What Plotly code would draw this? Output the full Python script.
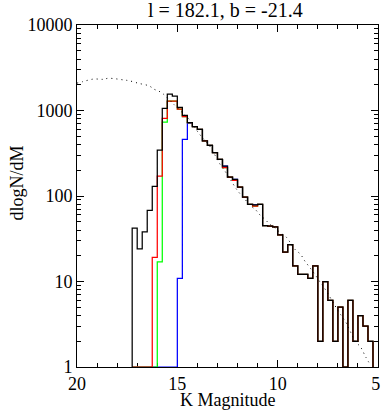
import plotly.graph_objects as go

# ---- data ----
# left edges (faint side, K mag) of 0.25-mag bins, 17.25 ... 5.50
bin_width = 0.25
bin_start = [17.25 - 0.25 * i for i in range(48)]

black_vals = [42, 24, 38, 68, 130, 345, 1060, 1550, 1470, 1090, 875, 720,
              647, 600, 440, 390, 321, 269, 224, 166, 157, 127, 97, 80,
              79, 80, 45, 44.5, 43.5, 35, 22, 27, 15.2, 12.1, 12.1, 10.9,
              15.2, 2, 10, 6, 2, 5, 1, 6, 2, 4, 3, 2]

red_vals = [1, 1, 1, 1, 19.2, 171, 811, 1290, 1290, 1040, 847, 720,
            647, 600, 440, 390, 321, 269, 215, 166, 152, 127, 97, 80,
            76, 80, 45, 44.5, 43.5, 35, 22, 27, 15.2, 12.1, 12.1, 10.9,
            15.2, 2, 10, 6, 2, 5, 1, 6, 2, 4, 3, 2]

green_vals = [1, 1, 1, 1, 1, 17, 733, 1290, 1290, 1040, 847, 720,
              647, 600, 440, 390, 321, 269, 215, 166, 152, 127, 97, 80,
              76, 80, 45, 44.5, 43.5, 35, 22, 27, 15.2, 12.1, 12.1, 10.9,
              15.2, 2, 10, 6, 2, 5, 1, 6, 2, 4, 3, 2]

blue_vals = [1, 1, 1, 1, 1, 1, 1, 1, 1, 10.9, 460, 714,
             647, 600, 440, 390, 321, 269, 224, 166, 157, 127, 97, 80,
             79, 80, 45, 44.5, 43.5, 35, 22, 27, 15.2, 12.1, 12.1, 10.9,
             15.2, 2, 10, 6, 2, 5, 1, 6, 2, 4, 3, 2]

model_mag = [20.0, 19.72, 19.17, 18.69, 18.43, 17.66, 17.42, 16.93, 16.40, 16.15,
             15.91, 15.68, 15.42, 15.18, 14.63, 14.37, 14.16, 13.90, 13.65, 13.39,
             13.13, 12.87, 12.63, 12.39, 12.14, 11.90, 11.66, 11.41, 11.12, 10.88,
             10.63, 10.39, 10.11, 9.84, 9.59, 9.14, 8.86, 8.65, 8.37, 8.12,
             7.87, 7.63, 7.14, 6.86, 6.59, 6.38, 6.13, 5.86, 5.62, 5.37]
model_val = [2090, 2173, 2333, 2317, 2382, 2275, 2234, 2080, 1936, 1770,
             1679, 1545, 1352, 1183, 885, 774, 647, 531, 452, 385,
             302, 235, 196, 161, 129, 108, 94, 78.5, 69.8, 60,
             53.3, 46.7, 41.9, 36.6, 33.4, 23.8, 20.8, 17.4, 14.3, 11.9,
             9.7, 8.1, 5.2, 4.1, 3.3, 2.6, 2.0, 1.7, 1.32, 1.05]

x_tick_vals = [20, 15, 10, 5]
x_tick_text = ["20", "15", "10", "5\u00a0"]
y_tick_vals = [1, 10, 100, 1000, 10000]
y_tick_text = ["1", "10", "100", "1000", "10000"]

title_text = "l = 182.1, b = -21.4"
x_title = "K Magnitude"
y_title = "dlogN/dM"

FONT = "'Liberation Serif', 'DejaVu Serif', serif"
W, H = 389, 414


def step_xy(starts, vals, base=1):
    xs = [starts[0]] + list(starts) + [starts[-1] - bin_width]
    ys = [base] + list(vals) + [base]
    return xs, ys


fig = go.Figure()

for vals, col in [(blue_vals, "#0000ff"), (green_vals, "#00ff00"),
                  (red_vals, "#ff0000"), (black_vals, "#000000")]:
    xs, ys = step_xy(bin_start, vals)
    fig.add_trace(go.Scatter(x=xs, y=ys, mode="lines", line_shape="hv",
                             line=dict(color=col, width=1.25),
                             cliponaxis=False, showlegend=False,
                             hoverinfo="skip"))

fig.add_trace(go.Scatter(x=model_mag, y=model_val, mode="lines",
                         line=dict(color="black", width=1, dash="1px,4px"),
                         line_shape="spline", showlegend=False,
                         hoverinfo="skip"))

axis_common = dict(showgrid=False, zeroline=False, showline=True,
                   linecolor="black", linewidth=1, mirror="ticks",
                   ticks="inside", ticklen=7, tickwidth=1, tickcolor="black",
                   tickfont=dict(family=FONT, size=18, color="black"),
                   ticklabeloverflow="allow",
                   layer="below traces")

fig.update_xaxes(range=[20, 5], tickmode="array", tickvals=x_tick_vals,
                 ticktext=x_tick_text,
                 minor=dict(ticks="inside", ticklen=4, dtick=1, tick0=0,
                            tickcolor="black", tickwidth=1, showgrid=False),
                 **axis_common)
fig.update_yaxes(type="log", range=[0, 4], tickmode="array",
                 tickvals=y_tick_vals, ticktext=y_tick_text,
                 minor=dict(ticks="inside", ticklen=4, dtick="D1",
                            tickcolor="black", tickwidth=1, showgrid=False),
                 **axis_common)

fig.update_layout(
    width=W, height=H,
    margin=dict(l=77, r=4, t=25, b=47, pad=0),
    paper_bgcolor="white", plot_bgcolor="white",
    font=dict(family=FONT, color="black", size=18),
    annotations=[
        dict(text=title_text, xref="paper", yref="paper",
             x=(229 - 77) / 308, y=(367 - 10) / 342,
             xanchor="center", yanchor="middle", showarrow=False,
             font=dict(family=FONT, size=20, color="black")),
        dict(text=x_title, xref="paper", yref="paper", x=0.5,
             y=(367 - 400) / 342, xanchor="center", yanchor="middle",
             showarrow=False, font=dict(family=FONT, size=18, color="black")),
        dict(text=y_title, xref="paper", yref="paper", x=(16 - 77) / 308,
             y=(367 - 183) / 342, xanchor="center", yanchor="middle",
             textangle=-90, showarrow=False,
             font=dict(family=FONT, size=18, color="black")),
    ],
)

fig.write_html("out.html",
               config={"displayModeBar": False, "staticPlot": True},
               post_script="document.body.style.margin='0px';"
                           "document.body.style.overflow='hidden';")
